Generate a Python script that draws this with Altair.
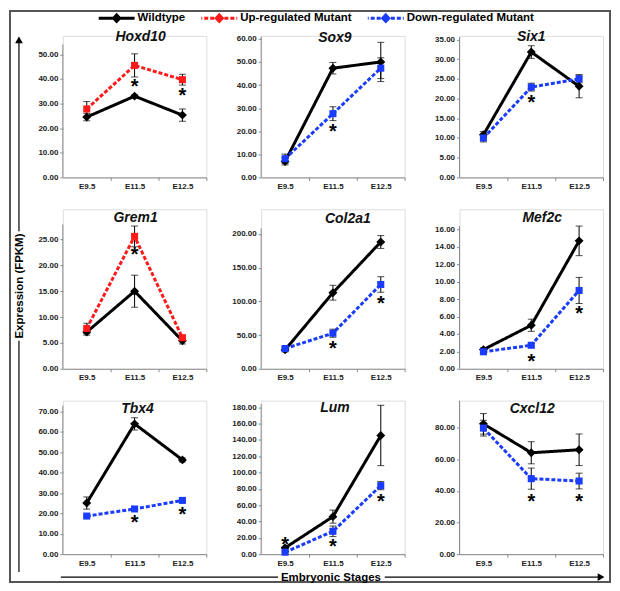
import altair as alt
import pandas as pd

# ---------------- data ----------------
stages = ["E9.5", "E11.5", "E12.5"]
genes = ["Hoxd10", "Sox9", "Six1", "Grem1", "Col2a1", "Mef2c", "Tbx4", "Lum", "Cxcl12"]
series_names = ["Wildtype", "Up-regulated Mutant", "Down-regulated Mutant"]
mutant_type = ["Up-regulated Mutant", "Down-regulated Mutant", "Down-regulated Mutant",
               "Up-regulated Mutant", "Down-regulated Mutant", "Down-regulated Mutant",
               "Down-regulated Mutant", "Down-regulated Mutant", "Down-regulated Mutant"]

wt_mean = [
    [24.5, 33.0, 25.3],
    [6.9, 47.3, 50.0],
    [10.8, 31.8, 23.1],
    [7.1, 15.0, 5.4],
    [28.0, 112.8, 188.0],
    [2.2, 5.0, 14.7],
    [25.1, 64.0, 46.3],
    [7.7, 46.0, 145.5],
    [82.5, 64.2, 66.1],
]
wt_err = [
    [1.5, 0.5, 2.5],
    [1.5, 2.5, 8.5],
    [0.8, 1.6, 2.9],
    [0.6, 3.1, 0.6],
    [3.0, 11.0, 9.5],
    [0.2, 0.7, 1.7],
    [3.0, 3.0, 1.0],
    [1.0, 8.0, 37.0],
    [6.5, 7.0, 10.0],
]
mut_mean = [
    [27.8, 45.5, 39.7],
    [8.1, 27.6, 47.3],
    [10.0, 22.9, 25.0],
    [7.8, 25.6, 6.0],
    [30.0, 52.7, 125.0],
    [1.95, 2.7, 9.0],
    [18.7, 22.2, 26.4],
    [2.4, 28.0, 84.0],
    [79.8, 47.8, 46.3],
]
mut_err = [
    [3.0, 4.7, 2.2],
    [2.0, 3.0, 4.5],
    [1.0, 1.0, 1.0],
    [1.0, 2.0, 0.3],
    [3.0, 6.0, 11.5],
    [0.2, 0.2, 1.5],
    [0.5, 0.5, 0.5],
    [1.0, 6.5, 5.0],
    [5.0, 6.7, 5.0],
]
# significance asterisks: gene index, stage index, y value
star_gene = [0, 0, 1, 2, 3, 4, 4, 5, 5, 6, 6, 7, 7, 7, 8, 8]
star_stage = [1, 2, 1, 1, 1, 1, 2, 1, 2, 1, 2, 0, 1, 2, 1, 2]
star_y = [38.8, 35.0, 22.0, 20.1, 22.9, 36.5, 103.0, 1.4, 6.9, 17.5, 21.9, 17.8, 14.6, 69.8, 36.2, 36.2]

# y axis: last labelled tick, tick step, axis-line top, scale max
y_last = [50, 60, 35, 25, 200, 16, 70, 180, 80]
y_step = [10, 10, 5, 5, 50, 2, 10, 20, 20]
y_top = [54, 61, 35.6, 27.9, 208.4, 16.4, 72.9, 184, 97.2]
y_max = [57.5, 61.3, 35.9, 30.84, 236.5, 18.33, 75.4, 188.2, 97.2]

# ---------------- layout / style ----------------
W = 144
row_h = [142, 160, 154]
title_x = [78, 74, 72, 73, 87, 83, 75, 74, 73]
title_y = [1, 2, 1, 9, 10, 9, 8, 7, 8]
FONT = "Liberation Sans"
AX = "#8a8a8a"

color_scale = alt.Scale(domain=series_names, range=["#000000", "#ff1a1a", "#1a3cff"])
dash_scale = alt.Scale(domain=series_names, range=[[1, 0], [4, 2], [4, 2]])

label_expr = " : ".join(
    [f"datum.value == {k + 1} ? '{s}'" for k, s in enumerate(stages[:-1])]
) + f" : '{stages[-1]}'"


# ---------------- legend symbols (line + marker paths) ----------------
def dashes(thick=0.25, start=0.85, end=3.0, dash=0.67, gap=0.33):
    parts = []
    for sgn in (-1, 1):
        p = start
        while p < end:
            q = min(p + dash, end)
            a, b = (p, q) if sgn > 0 else (-q, -p)
            parts.append(f"M{a:.2f},{-thick}H{b:.2f}V{thick}H{a:.2f}Z")
            p = q + gap
    return "".join(parts)


diamond = "M0,-0.9L0.85,0L0,0.9L-0.85,0Z"
solid = "M-3,-0.25H3V0.25H-3Z"
legend_paths = [solid + diamond, dashes() + diamond, dashes() + diamond]

leg = alt.Legend(orient="none", legendX=48, legendY=-24, direction="horizontal", title=None,
                 labelFont=FONT, labelFontSize=11.5, labelFontWeight="bold", labelColor="black",
                 labelOffset=15, columnPadding=16, symbolSize=144, symbolStrokeWidth=0,
                 padding=0)


def decorations():
    """Frame, axis arrows and outer labels, positioned relative to the first panel."""
    one = pd.DataFrame({"a": [0]})
    frame = alt.Chart(one).mark_rect(filled=False, stroke="#555", strokeWidth=2).encode(
        x=alt.value(-53), x2=alt.value(549), y=alt.value(-25), y2=alt.value(548))
    v_top = alt.Chart(one).mark_rule(color="black", strokeWidth=1.2).encode(
        x=alt.value(-44), y=alt.value(2), y2=alt.value(196))
    v_bot = alt.Chart(one).mark_rule(color="black", strokeWidth=1.2).encode(
        x=alt.value(-44), y=alt.value(306), y2=alt.value(538))
    v_head = alt.Chart(one).mark_point(shape="triangle-up", filled=True, color="black",
                                       opacity=1, size=60).encode(x=alt.value(-44), y=alt.value(4))
    v_text = alt.Chart(pd.DataFrame({"t": ["Expression (FPKM)"]})).mark_text(
        angle=270, font=FONT, fontSize=11.5, fontWeight="bold", color="black",
        align="center", baseline="middle").encode(text="t:N", x=alt.value(-43), y=alt.value(251))
    h_left = alt.Chart(one).mark_rule(color="black", strokeWidth=1.2).encode(
        x=alt.value(-2), x2=alt.value(216), y=alt.value(543))
    h_right = alt.Chart(one).mark_rule(color="black", strokeWidth=1.2).encode(
        x=alt.value(323), x2=alt.value(542), y=alt.value(543))
    h_head = alt.Chart(one).mark_point(shape="triangle-right", filled=True, color="black",
                                       opacity=1, size=60).encode(x=alt.value(540), y=alt.value(543))
    h_text = alt.Chart(pd.DataFrame({"t": ["Embryonic Stages"]})).mark_text(
        font=FONT, fontSize=11.5, fontWeight="bold", color="black",
        align="center", baseline="middle").encode(text="t:N", x=alt.value(269), y=alt.value(544))
    legend_layer = alt.Chart(pd.DataFrame({"series": series_names})).transform_filter(
        "false").mark_point(filled=True, opacity=1).encode(
        color=alt.Color("series:N", scale=color_scale, legend=leg),
        shape=alt.Shape("series:N", scale=alt.Scale(domain=series_names, range=legend_paths),
                        legend=leg),
    )
    return [frame, v_top, v_bot, v_head, v_text, h_left, h_right, h_head, h_text, legend_layer]


def make_panel(i, h):
    mt = mutant_type[i]
    rows = []
    for j in range(3):
        rows.append(dict(x=j + 0.5, series="Wildtype", value=wt_mean[i][j],
                         lo=wt_mean[i][j] - wt_err[i][j], hi=wt_mean[i][j] + wt_err[i][j]))
        rows.append(dict(x=j + 0.5, series=mt, value=mut_mean[i][j],
                         lo=mut_mean[i][j] - mut_err[i][j], hi=mut_mean[i][j] + mut_err[i][j]))
    df = pd.DataFrame(rows)

    x_axis = alt.Axis(values=[1, 2, 3], labelExpr=label_expr, labelOffset=-W / 6,
                      labelFlush=False, labelOverlap=False, title=None, grid=False,
                      tickSize=3, tickColor=AX, domainColor=AX, labelPadding=2,
                      labelFont=FONT, labelFontSize=8, labelFontWeight="bold", labelColor="#222")
    ticks = list(range(0, y_last[i] + 1, y_step[i]))
    y_axis = alt.Axis(values=ticks, format=".2f", title=None, grid=False, domain=False,
                      tickSize=3, tickColor=AX, labelPadding=2, labelFont=FONT,
                      labelFontSize=8, labelFontWeight="bold", labelColor="#222")
    xs = alt.Scale(domain=[0, 3], nice=False, zero=False)
    ys = alt.Scale(domain=[0, y_max[i]], nice=False)

    base = alt.Chart(df).encode(x=alt.X("x:Q", scale=xs, axis=x_axis))
    yv = alt.Y("value:Q", scale=ys, axis=y_axis)

    axis_line = alt.Chart(pd.DataFrame({"b": [0.0], "t": [y_top[i]]})).mark_rule(
        color=AX, strokeWidth=1).encode(
        x=alt.value(0), y=alt.Y("b:Q", scale=ys, axis=y_axis), y2="t:Q")

    lines = base.mark_line(strokeWidth=3).encode(
        y=yv,
        color=alt.Color("series:N", scale=color_scale, legend=None),
        strokeDash=alt.StrokeDash("series:N", scale=dash_scale, legend=None),
    )
    err = base.mark_rule(color="black", strokeWidth=1).encode(
        y=alt.Y("lo:Q", scale=ys, axis=y_axis), y2="hi:Q")
    cap_lo = base.mark_tick(color="black", thickness=1, size=7, orient="horizontal").encode(
        y=alt.Y("lo:Q", scale=ys, axis=y_axis))
    cap_hi = base.mark_tick(color="black", thickness=1, size=7, orient="horizontal").encode(
        y=alt.Y("hi:Q", scale=ys, axis=y_axis))
    pts = base.mark_point(filled=True, opacity=1).encode(
        y=yv,
        color=alt.Color("series:N", scale=color_scale, legend=None),
        shape=alt.condition("datum.series == 'Wildtype'", alt.value("diamond"), alt.value("square")),
        size=alt.condition("datum.series == 'Wildtype'", alt.value(80), alt.value(50)),
    )
    sdf = pd.DataFrame({
        "x": [star_stage[k] + 0.5 for k in range(len(star_gene)) if star_gene[k] == i],
        "y": [star_y[k] for k in range(len(star_gene)) if star_gene[k] == i],
    })
    stars = alt.Chart(sdf).mark_text(text="*", font=FONT, fontSize=20, fontWeight="bold",
                                     color="black", baseline="alphabetic", dy=11).encode(
        x=alt.X("x:Q", scale=xs, axis=x_axis), y=alt.Y("y:Q", scale=ys, axis=y_axis))
    title = alt.Chart(pd.DataFrame({"g": [genes[i]]})).mark_text(
        font=FONT, fontSize=14, fontWeight="bold", fontStyle="italic", color="#111",
        baseline="middle", align="center").encode(
        text="g:N", x=alt.value(title_x[i]), y=alt.value(title_y[i]))

    layers = [axis_line, lines, err, cap_lo, cap_hi, pts, stars, title]
    if i == 0:
        layers = decorations() + layers
    return alt.layer(*layers).properties(width=W, height=h)


panels = [make_panel(i, row_h[i // 3]) for i in range(9)]

chart = alt.concat(*panels, columns=3, spacing={"row": 32, "column": 55},
                   bounds="flush").properties(
    padding=0
).configure_view(stroke="transparent").configure(font=FONT)

chart.save("out.html", embed_options={"renderer": "svg", "actions": False})
